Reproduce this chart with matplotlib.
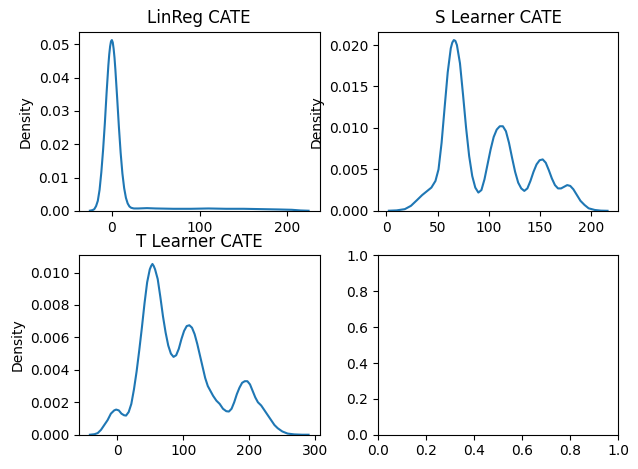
import matplotlib

matplotlib.use("Agg")
import matplotlib.pyplot as plt  # noqa: E402

# density curves (x = CATE, y = density)
linreg_x = [-25, -22, -20, -18, -16, -14, -12, -10, -8, -6, -4, -3, -2, -1, 0, 1, 2, 3,
            4, 6, 8, 10, 12, 14, 16, 18, 20, 22, 25, 30, 40, 50, 70, 90, 110, 130, 150,
            170, 190, 205, 215, 224]
linreg_y = [0.00004, 0.0002, 0.0005, 0.0014, 0.0030, 0.0063, 0.0116, 0.0183, 0.0263,
            0.0355, 0.0437, 0.0470, 0.0494, 0.0509, 0.0513, 0.0506, 0.0487, 0.0460,
            0.0424, 0.0340, 0.0252, 0.0174, 0.0112, 0.0068, 0.0039, 0.0022, 0.0013,
            0.0009, 0.0007, 0.0007, 0.0008, 0.0007, 0.0006, 0.0006, 0.0007, 0.0006,
            0.0006, 0.0005, 0.0004, 0.0003, 0.0001, 0.00002]

slearner_x = [2.4, 10, 18, 24, 30, 35, 40, 44, 48, 51, 54, 57, 60, 63, 64.5, 66, 67.5,
              69, 72, 75, 78, 81, 84, 87, 90, 93, 96, 99, 102, 105, 108, 111, 114, 117,
              120, 123, 126, 129, 132, 135, 138, 141, 144, 147, 150, 153, 156, 159, 162,
              165, 168, 171, 174, 177, 180, 183, 186, 190, 194, 198, 204, 210, 216.5]
slearner_y = [0.00001, 0.00005, 0.0002, 0.0006, 0.0013, 0.0019, 0.0024, 0.0028, 0.0036,
              0.0050, 0.0082, 0.0125, 0.0167, 0.0196, 0.0203, 0.0206, 0.0205, 0.0200,
              0.0178, 0.0140, 0.0100, 0.0066, 0.0042, 0.0028, 0.0022, 0.0025, 0.0038,
              0.0056, 0.0074, 0.0089, 0.0098, 0.0102, 0.0102, 0.0096, 0.0082, 0.0064,
              0.0047, 0.0034, 0.0027, 0.0024, 0.0027, 0.0036, 0.0047, 0.0056, 0.0061,
              0.0062, 0.0058, 0.0049, 0.0039, 0.0031, 0.0027, 0.0027, 0.0029, 0.0031,
              0.0030, 0.0026, 0.0020, 0.0012, 0.0007, 0.0003, 0.0001, 0.00002, 0.0]

tlearner_x = [-41.8, -35, -30, -25, -20, -15, -10, -5, -2, 2, 6, 10, 13, 17, 21, 25, 29,
              33, 37, 41, 45, 49, 51, 53, 55, 57, 61, 65, 69, 73, 77, 81, 85, 89, 93, 97,
              101, 105, 109, 113, 117, 121, 125, 129, 133, 137, 141, 145, 150, 155, 160,
              165, 169, 173, 177, 181, 185, 189, 193, 197, 201, 205, 209, 213, 218, 223,
              228, 233, 238, 243, 250, 258, 268, 280, 289.8]
tlearner_y = [0.0, 0.00003, 0.0001, 0.0003, 0.0006, 0.0009, 0.0013, 0.0015, 0.00155,
              0.0015, 0.0013, 0.0012, 0.00118, 0.0014, 0.0019, 0.0028, 0.0039, 0.0052,
              0.0066, 0.0081, 0.0094, 0.0102, 0.0104, 0.01053, 0.0104, 0.0102, 0.0096,
              0.0085, 0.0073, 0.0063, 0.0055, 0.0050, 0.0048, 0.0049, 0.0053, 0.0059,
              0.0064, 0.0067, 0.00675, 0.0066, 0.0062, 0.0056, 0.0049, 0.0042, 0.0035,
              0.0030, 0.0027, 0.0024, 0.0021, 0.0019, 0.0016, 0.00145, 0.00143, 0.0016,
              0.0020, 0.0025, 0.0029, 0.0032, 0.0033, 0.0033, 0.0031, 0.0027, 0.0023,
              0.0020, 0.0018, 0.0015, 0.0012, 0.0009, 0.0006, 0.0004, 0.0002, 0.00007,
              0.00002, 0.0, 0.0]

titles = ["LinReg CATE", "S Learner CATE", "T Learner CATE"]
curves = [(linreg_x, linreg_y), (slearner_x, slearner_y), (tlearner_x, tlearner_y)]

fig, axes = plt.subplots(2, 2, figsize=(6.38, 4.69), dpi=100)
fig.subplots_adjust(left=0.1238, right=0.9694, bottom=0.0731, top=0.9328,
                    wspace=0.243, hspace=0.249)

for ax, title, (xs, ys) in zip(axes.flat, titles, curves):
    ax.plot(xs, ys, color="#1f77b4", linewidth=1.5)
    ax.set_ylim(bottom=0)
    ax.set_ylabel("Density")
    ax.set_title(title)

plt.savefig("out.png", dpi=100)
plt.close()
